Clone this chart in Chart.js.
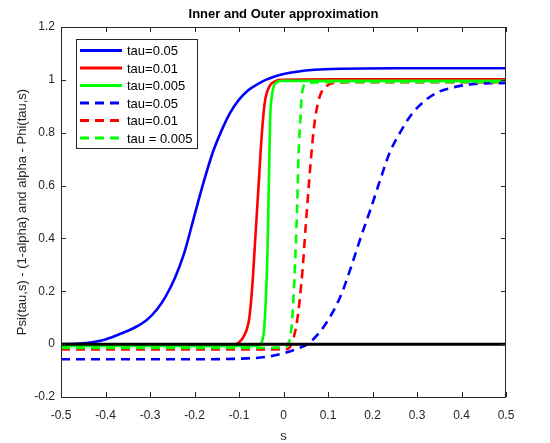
<!DOCTYPE html>
<html>
<head>
<meta charset="utf-8">
<script src="https://cdn.jsdelivr.net/npm/chart.js@4"></script>
<style>
  html, body { margin: 0; padding: 0; background: #fff; }
  #wrap { width: 550px; height: 443px; }
</style>
</head>
<body>
<div id="wrap"><canvas id="chart" width="550" height="443"></canvas></div>
<script>
// values
const blueSolidS = [-0.5, -0.46, -0.43, -0.4, -0.365, -0.335, -0.308, -0.285, -0.265, -0.244, -0.223, -0.202, -0.18, -0.159, -0.14, -0.12, -0.1, -0.08, -0.06, -0.04, -0.02, 0.0, 0.03, 0.07, 0.13, 0.25, 0.5];
const blueSolidV = [0, 0.002, 0.007, 0.018, 0.04, 0.062, 0.09, 0.13, 0.18, 0.25, 0.345, 0.475, 0.61, 0.725, 0.805, 0.875, 0.925, 0.96, 0.982, 1.0, 1.013, 1.022, 1.031, 1.038, 1.042, 1.044, 1.044];

const redSolidS = [-0.5, -0.2, -0.11, -0.102, -0.088, -0.077, -0.07, -0.063, -0.056, -0.049, -0.042, -0.031, -0.017, -0.003, 0.1, 0.5];
const redSolidV = [-0.002, -0.002, -0.002, 0.004, 0.034, 0.097, 0.223, 0.411, 0.60, 0.789, 0.915, 0.977, 0.996, 1.0, 1.002, 1.002];

const greenSolidS = [-0.5, -0.2, -0.062, -0.056, -0.045, -0.04, -0.036, -0.033, -0.03, -0.026, -0.017, -0.003, 0.05, 0.5];
const greenSolidV = [-0.007, -0.007, -0.007, -0.005, 0.034, 0.16, 0.348, 0.60, 0.852, 0.94, 0.99, 0.996, 0.996, 0.996];

const blueDashS = [-0.5, -0.2, -0.081, -0.038, 0.004, 0.033, 0.054, 0.082, 0.111, 0.132, 0.153, 0.175, 0.196, 0.217, 0.239, 0.26, 0.288, 0.317, 0.345, 0.381, 0.423, 0.466, 0.5];
const blueDashV = [-0.057, -0.057, -0.054, -0.048, -0.033, -0.016, 0, 0.047, 0.122, 0.197, 0.298, 0.411, 0.512, 0.62, 0.726, 0.795, 0.87, 0.92, 0.952, 0.971, 0.984, 0.987, 0.988];

const redDashS = [-0.5, -0.1, 0.005, 0.018, 0.029, 0.036, 0.043, 0.05, 0.058, 0.065, 0.072, 0.082, 0.097, 0.118, 0.2, 0.5];
const redDashV = [-0.02, -0.02, -0.019, 0, 0.072, 0.16, 0.286, 0.449, 0.625, 0.764, 0.864, 0.94, 0.977, 0.99, 0.991, 0.991];

const greenDashS = [-0.5, -0.1, 0.0, 0.01, 0.017, 0.022, 0.027, 0.031, 0.034, 0.038, 0.041, 0.05, 0.068, 0.15, 0.5];
const greenDashV = [-0.014, -0.014, -0.013, 0, 0.047, 0.16, 0.348, 0.537, 0.726, 0.852, 0.94, 0.984, 0.99, 0.992, 0.992];

const zeroS = [-0.5, 0.5];
const zeroV = [0, 0];

const seriesLabels = ['tau=0.05', 'tau=0.01', 'tau=0.005', 'tau=0.05', 'tau=0.01', 'tau = 0.005'];
const xTicks = [-0.5, -0.4, -0.3, -0.2, -0.1, 0, 0.1, 0.2, 0.3, 0.4, 0.5];
const yTicks = [-0.2, 0, 0.2, 0.4, 0.6, 0.8, 1, 1.2];

const titleText = 'Inner and Outer approximation';
const xTitle = 's';
const yTitle = 'Psi(tau,s) - (1-alpha) and alpha - Phi(tau,s)';

const BLUE = '#0000ff', RED = '#ff0000', GREEN = '#00ff00';
const AXIS = '#262626';
const DASH = [9, 6];

function pts(s, v) { return s.map((x, i) => ({ x: x, y: v[i] })); }

function line(label, s, v, color, dashed, order) {
  return {
    label: label,
    data: pts(s, v),
    borderColor: color,
    backgroundColor: color,
    borderWidth: 2.6,
    borderDash: dashed ? DASH : [],
    pointRadius: 0,
    showLine: true,
    fill: false,
    cubicInterpolationMode: 'monotone',
    order: order
  };
}

const datasets = [
  line(seriesLabels[0], blueSolidS, blueSolidV, BLUE, false, 6),
  line(seriesLabels[1], redSolidS, redSolidV, RED, false, 5),
  line(seriesLabels[2], greenSolidS, greenSolidV, GREEN, false, 4),
  line(seriesLabels[3], blueDashS, blueDashV, BLUE, true, 3),
  line(seriesLabels[4], redDashS, redDashV, RED, true, 2),
  line(seriesLabels[5], greenDashS, greenDashV, GREEN, true, 1),
  Object.assign(line('zero', zeroS, zeroV, '#000000', false, 0), { borderWidth: 3 })
];

const fmt = v => String(Number(v.toFixed(1)));

// box, inner ticks, title, axis titles and legend, matlab style
const matlabFrame = {
  id: 'matlabFrame',
  afterDraw(chart) {
    const ctx = chart.ctx;
    const a = chart.chartArea;
    const xs = chart.scales.x, ys = chart.scales.y;
    ctx.save();
    ctx.strokeStyle = AXIS;
    ctx.lineWidth = 1;
    ctx.strokeRect(a.left + 0.5, a.top + 0.5, a.right - a.left - 1, a.bottom - a.top);
    const tl = 5;
    ctx.beginPath();
    xTicks.forEach(t => {
      const px = Math.round(xs.getPixelForValue(t)) + 0.5;
      ctx.moveTo(px, a.bottom); ctx.lineTo(px, a.bottom - tl);
      ctx.moveTo(px, a.top); ctx.lineTo(px, a.top + tl);
    });
    yTicks.forEach(t => {
      const py = Math.round(ys.getPixelForValue(t)) + 0.5;
      ctx.moveTo(a.left, py); ctx.lineTo(a.left + tl, py);
      ctx.moveTo(a.right, py); ctx.lineTo(a.right - tl, py);
    });
    ctx.stroke();

    // title
    ctx.fillStyle = '#000';
    ctx.font = 'bold 13px "Liberation Sans", Arial, sans-serif';
    ctx.textAlign = 'center';
    ctx.textBaseline = 'middle';
    ctx.fillText(titleText, (a.left + a.right) / 2, 14);

    // axis titles
    ctx.fillStyle = AXIS;
    ctx.font = '13px "Liberation Sans", Arial, sans-serif';
    ctx.fillText(xTitle, (a.left + a.right) / 2, 436);
    ctx.save();
    ctx.translate(22, (a.top + a.bottom) / 2);
    ctx.rotate(-Math.PI / 2);
    ctx.fillText(yTitle, 0, 0);
    ctx.restore();

    // legend
    const lx = 76, ly = 39, lw = 121, lh = 109;
    ctx.fillStyle = '#fff';
    ctx.fillRect(lx, ly, lw, lh);
    ctx.strokeStyle = AXIS;
    ctx.lineWidth = 1;
    ctx.strokeRect(lx + 0.5, ly + 0.5, lw, lh);
    ctx.font = '13px "Liberation Sans", Arial, sans-serif';
    ctx.textAlign = 'left';
    chart.data.datasets.slice(0, 6).forEach((d, i) => {
      const y = ly + 11.5 + i * 17.5;
      ctx.strokeStyle = d.borderColor;
      ctx.lineWidth = 3;
      ctx.setLineDash(d.borderDash);
      ctx.beginPath();
      ctx.moveTo(lx + 4, y);
      ctx.lineTo(lx + 46, y);
      ctx.stroke();
      ctx.setLineDash([]);
      ctx.fillStyle = '#000';
      ctx.fillText(d.label, lx + 51, y + 1);
    });
    ctx.restore();
  }
};

new Chart(document.getElementById('chart').getContext('2d'), {
  type: 'scatter',
  data: { datasets: datasets },
  options: {
    responsive: false,
    animation: false,
    layout: { padding: { top: 27, right: 44, left: 0, bottom: 0 } },
    plugins: {
      legend: { display: false },
      tooltip: { enabled: false },
      title: { display: false }
    },
    scales: {
      x: {
        type: 'linear',
        min: -0.5, max: 0.5,
        grid: { display: false, drawTicks: false },
        border: { display: false },
        afterFit: s => { s.height = 46; },
        afterBuildTicks: s => { s.ticks = xTicks.map(v => ({ value: v })); },
        ticks: {
          padding: 11,
          color: AXIS,
          font: { family: '"Liberation Sans", Arial, sans-serif', size: 12 },
          callback: fmt
        }
      },
      y: {
        type: 'linear',
        min: -0.2, max: 1.2,
        grid: { display: false, drawTicks: false },
        border: { display: false },
        afterFit: s => { s.width = 61; },
        afterBuildTicks: s => { s.ticks = yTicks.map(v => ({ value: v })); },
        ticks: {
          padding: 6,
          color: AXIS,
          font: { family: '"Liberation Sans", Arial, sans-serif', size: 12 },
          callback: fmt
        }
      }
    }
  },
  plugins: [matlabFrame]
});
</script>
</body>
</html>
